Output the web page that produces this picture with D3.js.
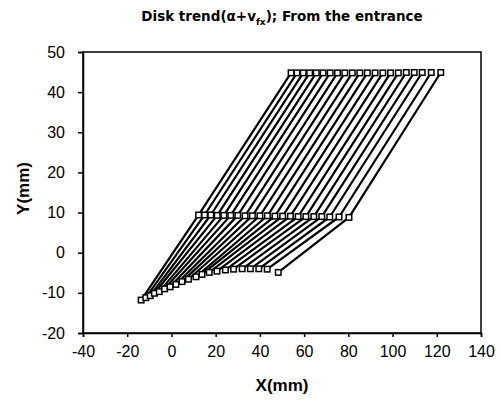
<!DOCTYPE html>
<html>
<head>
<meta charset="utf-8">
<script src="https://cdn.jsdelivr.net/npm/d3@7"></script>
<style>
  body { margin: 0; background: #fff; }
  svg { display: block; font-family: "Liberation Sans", Arial, sans-serif; }
  .axis path, .axis line { stroke: #000; stroke-width: 1.5; }
  .axis text { font-size: 16px; fill: #000; }
</style>
</head>
<body>
<div id="chart"></div>
<script>
// entrance points (lower curve)
const lowerX = [-13.7, -11.6, -9.6, -7.7, -5.5, -3.1, -0.6, 2.0, 4.8, 7.7, 11.1, 13.8, 17.1, 20.6, 24.4, 28.1, 32.0, 35.7, 39.5, 43.3, 48.3];
const lowerY = [-11.8, -11.2, -10.7, -10.1, -9.7, -9.0, -8.5, -7.9, -7.2, -6.6, -6.0, -5.4, -4.9, -4.6, -4.3, -4.1, -4.0, -4.0, -4.0, -4.1, -4.9];
// middle row
const midX = [12.3, 15.0, 17.8, 20.7, 23.7, 26.8, 30.0, 33.3, 36.6, 40.0, 43.4, 46.8, 50.3, 53.8, 57.3, 60.8, 64.4, 68.0, 71.6, 75.8, 80.3];
const midY = [9.4, 9.4, 9.4, 9.3, 9.3, 9.3, 9.3, 9.2, 9.2, 9.2, 9.2, 9.1, 9.1, 9.1, 9.0, 9.0, 9.0, 9.0, 8.9, 8.9, 8.8];
// top row
const topX = [54.1, 56.8, 59.6, 62.5, 65.5, 68.6, 71.8, 75.1, 78.4, 81.8, 85.2, 88.6, 92.1, 95.6, 99.1, 102.6, 106.2, 109.8, 113.4, 117.5, 121.8];
const topY = [44.8, 44.8, 44.8, 44.8, 44.8, 44.8, 44.8, 44.8, 44.8, 44.8, 44.8, 44.8, 44.8, 44.8, 44.8, 44.8, 44.9, 44.9, 44.9, 44.9, 44.9];

const xTicks = [-40, -20, 0, 20, 40, 60, 80, 100, 120, 140];
const yTicks = [-20, -10, 0, 10, 20, 30, 40, 50];

const series = lowerX.map((d, i) => [
  [lowerX[i], lowerY[i]],
  [midX[i], midY[i]],
  [topX[i], topY[i]]
]);

const config = {
  width: 501, height: 403,
  margin: {top: 52, right: 20, bottom: 70, left: 83}
};
const width = config.width - config.margin.left - config.margin.right;
const height = config.height - config.margin.top - config.margin.bottom;

const svg = d3.select('#chart').append('svg')
  .attr('width', config.width)
  .attr('height', config.height);

const g = svg.append('g')
  .attr('transform', `translate(${config.margin.left},${config.margin.top})`);

const x = d3.scaleLinear().domain([-40, 140]).range([0, width]);
const y = d3.scaleLinear().domain([-20, 50]).range([height, 0]);

// plot frame
g.append('rect')
  .attr('width', width).attr('height', height)
  .attr('fill', 'none').attr('stroke', '#000').attr('stroke-width', 1.5);

g.append('g').attr('class', 'axis')
  .attr('transform', `translate(0,${height})`)
  .call(d3.axisBottom(x).tickValues(xTicks).tickSize(4).tickPadding(9).tickFormat(d => String(d)));

g.append('g').attr('class', 'axis')
  .call(d3.axisLeft(y).tickValues(yTicks).tickSize(5).tickPadding(13).tickFormat(d => String(d)));

const line = d3.line().x(d => x(d[0])).y(d => y(d[1]));

g.append('g').selectAll('path')
  .data(series)
  .join('path')
  .attr('d', line)
  .attr('fill', 'none')
  .attr('stroke', '#000')
  .attr('stroke-width', 2.2)
  .attr('stroke-linejoin', 'round');

g.append('g').selectAll('rect')
  .data(series.flat())
  .join('rect')
  .attr('x', d => x(d[0]) - 2.75)
  .attr('y', d => y(d[1]) - 2.75)
  .attr('width', 5.5).attr('height', 5.5)
  .attr('fill', '#fff')
  .attr('stroke', '#000')
  .attr('stroke-width', 1.5);

// title
const title = svg.append('text')
  .attr('x', config.margin.left + width / 2)
  .attr('y', 21)
  .attr('text-anchor', 'middle')
  .style('font-family', '"DejaVu Sans", sans-serif')
  .style('font-size', '13.5px')
  .style('font-weight', 'bold');
title.append('tspan').text('Disk trend(α+v');
title.append('tspan').attr('dy', 4).style('font-size', '9px').text('fx');
title.append('tspan').attr('dy', -4).text('); From the entrance');

svg.append('text')
  .attr('x', config.margin.left + width / 2)
  .attr('y', 391)
  .attr('text-anchor', 'middle')
  .style('font-size', '17px')
  .style('font-weight', 'bold')
  .text('X(mm)');

svg.append('text')
  .attr('transform', `translate(29,${config.margin.top + height / 2 - 4}) rotate(-90)`)
  .attr('text-anchor', 'middle')
  .style('font-size', '17px')
  .style('font-weight', 'bold')
  .text('Y(mm)');
</script>
</body>
</html>
